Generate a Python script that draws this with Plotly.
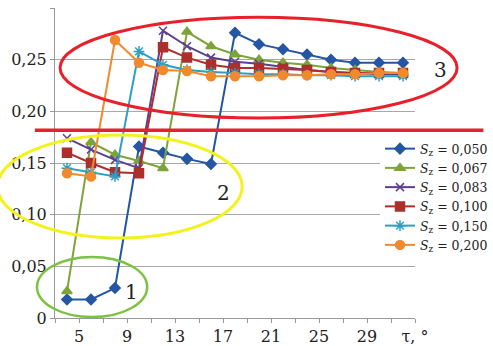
import plotly.graph_objects as go

tau = [4, 6, 8, 10, 12, 14, 16, 18, 20, 22, 24, 26, 28, 30, 32]
s050 = [0.018, 0.018, 0.029, 0.166, 0.160, 0.154, 0.149, 0.276, 0.265, 0.260, 0.255, 0.250, 0.247, 0.247, 0.247]
s067 = [0.026, 0.170, 0.158, 0.152, 0.145, 0.277, 0.263, 0.255, 0.250, 0.247, 0.245, 0.242, 0.240, 0.238, 0.237]
s083 = [0.174, 0.163, 0.153, 0.145, 0.278, 0.263, 0.252, 0.248, 0.246, 0.243, 0.240, 0.238, 0.237, 0.236, 0.236]
s100 = [0.160, 0.150, 0.141, 0.140, 0.262, 0.252, 0.245, 0.242, 0.242, 0.241, 0.240, 0.238, 0.237, 0.237, 0.237]
s150 = [0.145, 0.141, 0.137, 0.258, 0.245, 0.240, 0.238, 0.237, 0.236, 0.236, 0.235, 0.235, 0.234, 0.234, 0.234]
s200 = [0.140, 0.137, 0.269, 0.247, 0.240, 0.239, 0.234, 0.234, 0.234, 0.235, 0.235, 0.236, 0.236, 0.237, 0.237]

series_names = ["0,050", "0,067", "0,083", "0,100", "0,150", "0,200"]
series_vals = [s050, s067, s083, s100, s150, s200]
colors = ["#2456a4", "#7ea33a", "#5e3f8f", "#ad2f2c", "#2e9ec4", "#f08a2e"]
symbols = ["diamond", "triangle-up", "x-thin-open", "square", "asterisk-open", "circle"]
sizes = [8, 9, 8, 9, 9, 9]

x_tickvals = [5, 9, 13, 17, 21, 25, 29, 33]
x_ticktext = ["5", "9", "13", "17", "21", "25", "29", "τ, °"]
y_tickvals = [0, 0.05, 0.10, 0.15, 0.20, 0.25, 0.30]
y_ticktext = ["0", "0,05", "0,10", "0,15", "0,20", "0,25", "δ, мм"]

FONT = "DejaVu Serif"

fig = go.Figure()
for name, vals, c, sym, sz in zip(series_names, series_vals, colors, symbols, sizes):
    fig.add_trace(go.Scatter(
        x=tau, y=vals, mode="lines+markers",
        name=f"<i>S</i><sub>z</sub> = {name}",
        line=dict(color=c, width=2),
        marker=dict(symbol=sym, size=sz, color=c, line=dict(color=c, width=1.5)),
    ))

# Annotation shapes (paper coordinates)
fig.add_shape(type="circle", xref="paper", yref="paper",
              x0=0.014, x1=1.117, y0=0.645, y1=0.970,
              line=dict(color="#e8202a", width=3))
fig.add_shape(type="line", xref="paper", yref="paper",
              x0=-0.056, x1=1.19, y0=0.606, y1=0.606,
              line=dict(color="#e8202a", width=3.5))
fig.add_shape(type="circle", xref="paper", yref="paper",
              x0=-0.16, x1=0.52, y0=0.258, y1=0.590,
              line=dict(color="#f2f21e", width=3))
fig.add_shape(type="circle", xref="paper", yref="paper",
              x0=-0.05, x1=0.256, y0=0.003, y1=0.197,
              line=dict(color="#7cc242", width=2.5))

for txt, px, py in [("3", 440, 70), ("2", 223, 193), ("1", 131, 292)]:
    fig.add_annotation(text=txt, xref="paper", yref="paper",
                       x=(px - 55) / 360, y=(318 - py) / 310,
                       xanchor="center", yanchor="middle",
                       showarrow=False, font=dict(family=FONT, size=20, color="#222"))

fig.update_layout(
    width=493, height=346,
    margin=dict(l=55, r=78, t=8, b=28, autoexpand=False),
    paper_bgcolor="white", plot_bgcolor="white",
    font=dict(family=FONT, size=16, color="#222"),
    showlegend=True,
    legend=dict(x=(380 - 55) / 360, y=(318 - 134) / 310, xanchor="left", yanchor="top",
                bgcolor="white", font=dict(family=FONT, size=12.5, color="#222"),
                itemwidth=30, tracegroupgap=0, borderwidth=0),
    xaxis=dict(range=[3, 33], tickmode="array", tickvals=x_tickvals, ticktext=x_ticktext,
               showgrid=False, zeroline=False, showline=True, linecolor="#999", linewidth=1,
               ticks="outside", ticklen=4, tickcolor="#999",
               minor=dict(tick0=3, dtick=2, ticks="outside", ticklen=4, tickcolor="#999", showgrid=False),
               tickfont=dict(family=FONT, size=16, color="#222")),
    yaxis=dict(range=[0, 0.30], tickmode="array", tickvals=y_tickvals, ticktext=y_ticktext,
               showgrid=True, gridcolor="#a8a8a8", gridwidth=1, zeroline=False,
               showline=True, linecolor="#999", linewidth=1,
               ticks="outside", ticklen=4, tickcolor="#999",
               tickfont=dict(family=FONT, size=16, color="#222")),
)

fig.write_html("out.html", config={"displayModeBar": False},
               post_script="document.body.style.margin='0';document.body.style.padding='0';")
